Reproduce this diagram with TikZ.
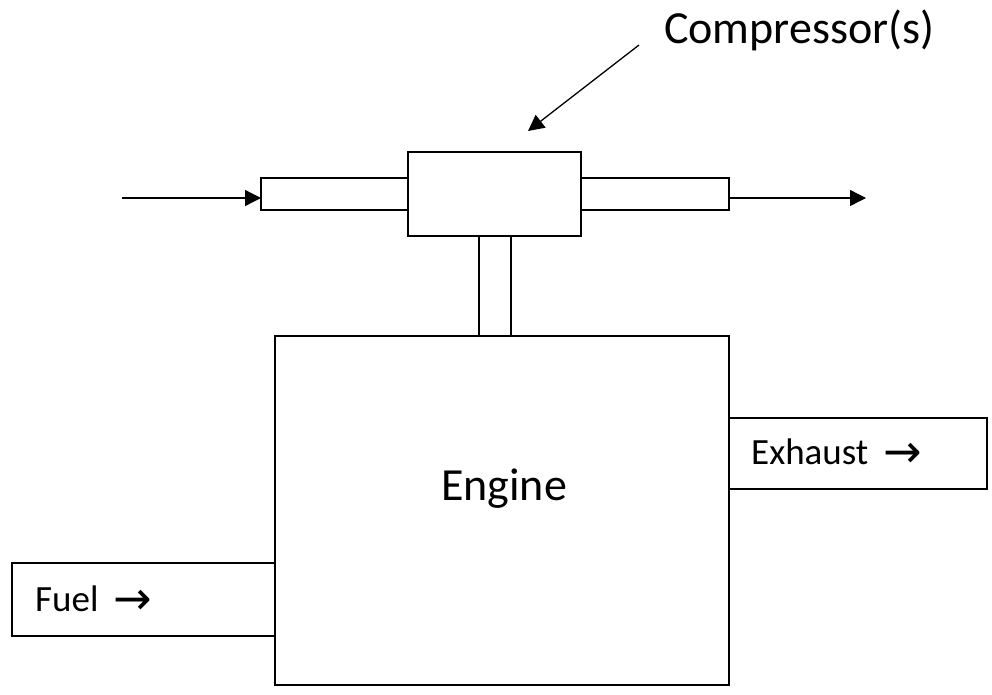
\documentclass[tikz,border=0pt]{standalone}
\usepackage{fontspec}
\setmainfont{Carlito}
\newfontfamily\arrowfont{DejaVu Sans}
\usetikzlibrary{arrows.meta}

\tikzset{
  part/.style={draw=black, line width=1.5pt, fill=white, inner sep=0pt, outer sep=0pt},
  flow/.style={line width=1.3pt, -{Triangle[length=16pt,width=16pt]}},
  bigtext/.style={font=\fontsize{46}{50}\selectfont, inner sep=0pt},
  smalltext/.style={font=\fontsize{37}{40}\selectfont, inner sep=0pt, anchor=base west},
}
\newcommand{\flowsign}{\raisebox{-3pt}{\arrowfont\fontsize{46}{50}\selectfont →}}

\begin{document}
\begin{tikzpicture}[x=1pt, y=-1pt]
  \useasboundingbox (0,0) rectangle (992,694);

  % compressor with inlet and outlet ducts
  \node[part, minimum width=147pt, minimum height=32pt] (lpipe) at (334.5,194) {};
  \node[part, minimum width=148pt, minimum height=32pt] (rpipe) at (655,194) {};
  \node[part, minimum width=173pt, minimum height=84pt] (comp) at (494.5,194) {};

  % shaft down to the engine
  \node[part, minimum width=32pt, minimum height=100pt] (shaft) at (495,286) {};

  % engine block with fuel and exhaust streams
  \node[part, minimum width=263pt, minimum height=73pt] (fuel) at (143.5,599.5) {};
  \node[part, minimum width=258pt, minimum height=71pt] (exhaust) at (858,453.5) {};
  \node[part, minimum width=454pt, minimum height=349pt] (engine) at (502,510.5) {};

  % labels
  \node[bigtext] (enginelbl) at (504,489) {Engine};
  \node[smalltext] (fuellbl) at (35,611) {Fuel\hspace{0.4em}\flowsign};
  \node[smalltext] (exhaustlbl) at (751,464) {Exhaust\hspace{0.4em}\flowsign};
  \node[bigtext, anchor=base west] (complbl) at (664,43) {Compressor(s)};

  % air flow through the compressor
  \coordinate (airin) at (122,198);
  \coordinate (airout) at (866,198);
  \draw[flow] (airin) -- (airin -| lpipe.west);
  \draw[flow] (airout -| rpipe.east) -- (airout);

  % pointer from the label to the compressor
  \coordinate (ptrstart) at (639,45);
  \coordinate (ptrend) at (528,131);
  \draw[flow] (ptrstart) -- (ptrend);
\end{tikzpicture}
\end{document}
